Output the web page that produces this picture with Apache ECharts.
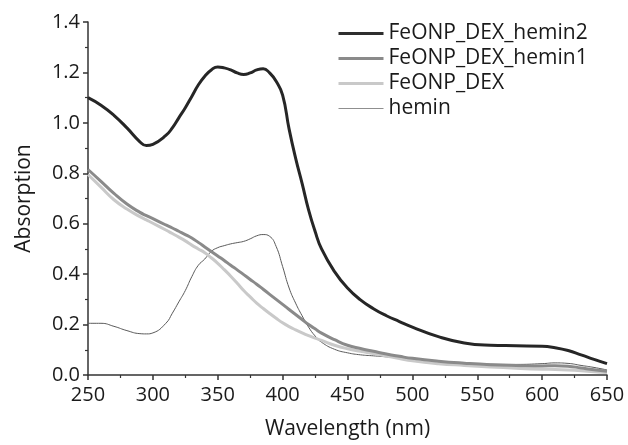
<!DOCTYPE html>
<html><head><meta charset="utf-8">
<script src="https://cdn.jsdelivr.net/npm/echarts@6/dist/echarts.min.js"></script>
<style>html,body{margin:0;padding:0;background:#fff}#c{width:628px;height:445px}</style>
</head><body><div id="c"></div>
<script>
const wavelengths = [250,260,270,280,290,295,300,310,315,320,325,330,335,340,345,350,355,360,365,370,375,380,385,390,395,400,405,410,415,420,425,430,440,450,460,470,480,490,500,520,540,560,580,600,610,620,630,640,650];
const seriesNames = ['FeONP_DEX_hemin2','FeONP_DEX_hemin1','FeONP_DEX','hemin'];
const hemin2 = [1.10,1.07,1.03,0.98,0.925,0.91,0.915,0.95,0.98,1.02,1.06,1.105,1.15,1.185,1.21,1.222,1.218,1.21,1.198,1.192,1.198,1.21,1.215,1.198,1.165,1.11,0.975,0.86,0.76,0.655,0.57,0.50,0.41,0.345,0.298,0.263,0.235,0.212,0.19,0.152,0.127,0.118,0.116,0.114,0.108,0.097,0.08,0.062,0.045];
const hemin1 = [0.815,0.768,0.72,0.678,0.645,0.632,0.62,0.595,0.583,0.57,0.557,0.543,0.526,0.508,0.49,0.472,0.454,0.435,0.417,0.398,0.379,0.36,0.34,0.32,0.30,0.28,0.26,0.24,0.22,0.20,0.183,0.166,0.14,0.118,0.105,0.094,0.083,0.074,0.066,0.055,0.047,0.041,0.038,0.036,0.037,0.035,0.028,0.021,0.015];
const feonpDex = [0.795,0.745,0.695,0.658,0.628,0.615,0.602,0.575,0.561,0.547,0.532,0.515,0.5,0.485,0.465,0.443,0.418,0.392,0.364,0.335,0.31,0.285,0.264,0.244,0.225,0.207,0.192,0.179,0.167,0.156,0.146,0.137,0.118,0.104,0.094,0.085,0.075,0.065,0.056,0.045,0.038,0.032,0.027,0.023,0.022,0.02,0.017,0.013,0.01];
const hemin = [0.205,0.205,0.193,0.176,0.164,0.163,0.167,0.205,0.245,0.29,0.335,0.39,0.435,0.46,0.49,0.505,0.513,0.52,0.525,0.53,0.54,0.552,0.557,0.55,0.51,0.43,0.345,0.285,0.235,0.19,0.155,0.13,0.102,0.088,0.08,0.076,0.072,0.068,0.064,0.055,0.046,0.043,0.042,0.045,0.048,0.046,0.038,0.03,0.02];

const pairs = vals => wavelengths.map((w,i)=>[w, vals[i]]);
const font = '"Open Sans", "Noto Sans", sans-serif';
const styles = [
  {color:'#262626', width:3},
  {color:'#8a8a8a', width:3},
  {color:'#c9c9c9', width:3},
  {color:'#5a5a5a', width:1}
];
const legendLine = [
  {color:'#2e2e2e', width:3},
  {color:'#8a8a8a', width:3},
  {color:'#c9c9c9', width:3},
  {color:'#8f8f8f', width:1.2}
];
const allVals = [hemin2, hemin1, feonpDex, hemin];

const chart = echarts.init(document.getElementById('c'));
chart.setOption({
  animation:false,
  backgroundColor:'#fff',
  grid:{left:88, right:21, top:22, bottom:66},
  legend:{
    orient:'vertical', left:332, top:18,
    itemWidth:45, itemHeight:14, itemGap:4,
    itemStyle:{opacity:0},
    textStyle:{fontFamily:font, fontSize:21, lineHeight:21, color:'#1a1a1a'},
    data:seriesNames.map((n,i)=>({name:n, lineStyle:{color:legendLine[i].color, width:legendLine[i].width}}))
  },
  xAxis:{
    type:'value', min:250, max:650, interval:50,
    name:'Wavelength (nm)', nameLocation:'middle', nameGap:44,
    nameTextStyle:{fontFamily:font, fontSize:21, color:'#1a1a1a'},
    axisLine:{lineStyle:{color:'#333', width:1.5}},
    axisTick:{show:true, inside:false, length:5, lineStyle:{color:'#333', width:1.5}},
    minorTick:{show:true, splitNumber:2, length:3, lineStyle:{color:'#333', width:1.2}},
    axisLabel:{fontFamily:font, fontSize:20, color:'#1a1a1a', margin:10},
    splitLine:{show:false}
  },
  yAxis:{
    type:'value', min:0, max:1.4, interval:0.2,
    name:'Absorption', nameLocation:'middle', nameGap:53, nameRotate:90,
    nameTextStyle:{fontFamily:font, fontSize:21, color:'#1a1a1a'},
    axisLine:{show:true, lineStyle:{color:'#333', width:1.5}},
    axisTick:{show:true, inside:false, length:5, lineStyle:{color:'#333', width:1.5}},
    minorTick:{show:true, splitNumber:2, length:3, lineStyle:{color:'#333', width:1.2}},
    axisLabel:{fontFamily:font, fontSize:20, color:'#1a1a1a', margin:8, formatter:v=>v.toFixed(1)},
    splitLine:{show:false}
  },
  series: seriesNames.map((n,i)=>({
    name:n, type:'line', data:pairs(allVals[i]),
    showSymbol:false, symbol:'none', smooth:0.5,
    lineStyle:{color:styles[i].color, width:styles[i].width},
    itemStyle:{color:styles[i].color},
    z: 10 - i
  }))
});
</script></body></html>
